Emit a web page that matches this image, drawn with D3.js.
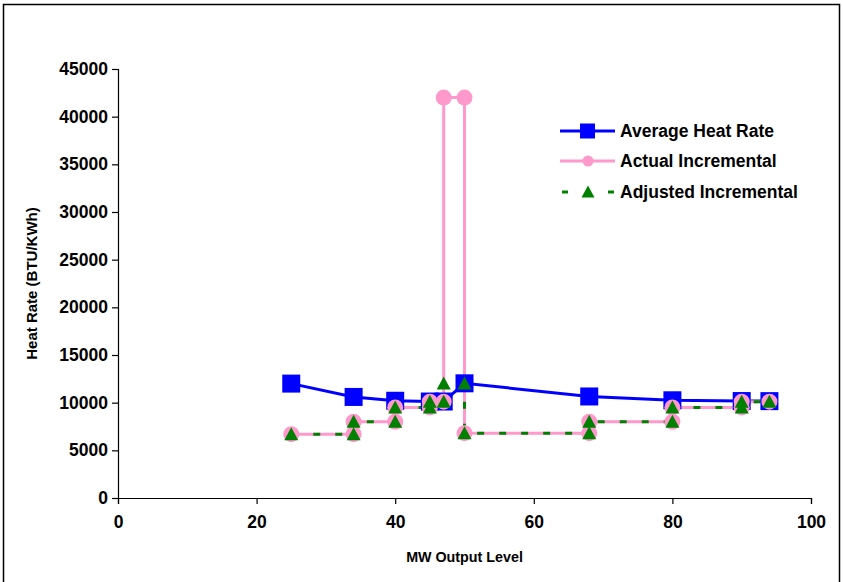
<!DOCTYPE html>
<html>
<head>
<meta charset="utf-8">
<script src="https://cdn.jsdelivr.net/npm/d3@7"></script>
<style>
  html, body { margin: 0; padding: 0; background: #fff; }
  svg { display: block; }
  text { font-family: "Liberation Sans", Arial, sans-serif; font-weight: bold; fill: #000; }
</style>
</head>
<body>
<svg id="chart" width="843" height="582"></svg>
<script>
// ---- data ----
const mwLevels = [25, 34, 40, 45, 47, 50, 68, 80, 90, 94];
const averageHeatRate = [12000, 10600, 10200, 10120, 10120, 12030, 10650, 10250, 10170, 10160];

const stepMW = [25, 34, 34, 40, 40, 45, 45, 47, 47, 50, 50, 68, 68, 80, 80, 90, 90, 94];
const actualIncremental = [6700, 6700, 8000, 8000, 9500, 9500, 10100, 10100, 42000, 42000, 6800, 6800, 8000, 8000, 9500, 9500, 10100, 10100];
const adjustedIncremental = [6700, 6700, 8000, 8000, 9500, 9500, 10100, 10100, 12000, 12000, 6800, 6800, 8000, 8000, 9500, 9500, 10100, 10100];

const xTicks = [0, 20, 40, 60, 80, 100];
const yTicks = [0, 5000, 10000, 15000, 20000, 25000, 30000, 35000, 40000, 45000];
const seriesNames = ["Average Heat Rate", "Actual Incremental", "Adjusted Incremental"];

// ---- setup ----
const svg = d3.select("#chart");
const x = d3.scaleLinear().domain([0, 100]).range([118, 811]);
const y = d3.scaleLinear().domain([0, 45000]).range([498, 69]);

// chart area frame
svg.append("rect").attr("x", 3.5).attr("y", 4.5).attr("width", 836).attr("height", 600)
  .attr("fill", "#fff").attr("stroke", "#000").attr("stroke-width", 1.5);

// axes
const xAxis = svg.append("g").attr("transform", `translate(0,${y(0)})`)
  .call(d3.axisBottom(x).tickValues(xTicks).tickSize(6).tickPadding(12).tickFormat(d3.format("d")));
const yAxis = svg.append("g").attr("transform", `translate(${x(0)},0)`)
  .call(d3.axisLeft(y).tickValues(yTicks).tickSize(6).tickPadding(4).tickFormat(d3.format("d")));
[xAxis, yAxis].forEach(g => {
  g.select(".domain").attr("stroke", "#000").attr("stroke-width", 1.2);
  g.selectAll(".tick line").attr("stroke", "#000").attr("stroke-width", 1.2);
  g.selectAll(".tick text").style("font-size", "17.5px").style("font-weight", "bold")
    .style("font-family", '"Liberation Sans", Arial, sans-serif').attr("fill", "#000");
});

// axis titles
svg.append("text").attr("x", (x(0) + x(100)) / 2).attr("y", 562)
  .attr("text-anchor", "middle").style("font-size", "14.3px").text("MW Output Level");
svg.append("text").attr("transform", `translate(37,${(y(0) + y(45000)) / 2}) rotate(-90)`)
  .attr("text-anchor", "middle").style("font-size", "15px").text("Heat Rate (BTU/KWh)");

// ---- series ----
const avgPts = mwLevels.map((m, i) => [m, averageHeatRate[i]]);
const actPts = stepMW.map((m, i) => [m, actualIncremental[i]]);
const adjPts = stepMW.map((m, i) => [m, adjustedIncremental[i]]);

const line = d3.line().x(d => x(d[0])).y(d => y(d[1]));

const colors = ["#0000FF", "#FF99CC", "#008000"];

// lines first (Excel draws all lines, then markers)
svg.append("path").datum(avgPts).attr("d", line).attr("fill", "none")
  .attr("stroke", colors[0]).attr("stroke-width", 3);
svg.append("path").datum(actPts).attr("d", line).attr("fill", "none")
  .attr("stroke", colors[1]).attr("stroke-width", 3);
svg.append("path").datum(adjPts).attr("d", line).attr("fill", "none")
  .attr("stroke", colors[2]).attr("stroke-width", 3).attr("stroke-dasharray", "7,15");

const triPath = "M0,-7L7,6L-7,6Z";

// markers
svg.append("g").selectAll("rect").data(avgPts).join("rect")
  .attr("x", d => x(d[0]) - 9).attr("y", d => y(d[1]) - 9)
  .attr("width", 18).attr("height", 18).attr("fill", colors[0]);
svg.append("g").selectAll("circle").data(actPts).join("circle")
  .attr("cx", d => x(d[0])).attr("cy", d => y(d[1])).attr("r", 8).attr("fill", colors[1]);
svg.append("g").selectAll("path").data(adjPts).join("path")
  .attr("transform", d => `translate(${x(d[0])},${y(d[1])})`).attr("d", triPath).attr("fill", colors[2]);

// ---- legend ----
const legY = [131, 161, 192];
const lg = svg.append("g");
seriesNames.forEach((name, i) => {
  const yy = legY[i];
  const ln = lg.append("line").attr("x1", 560).attr("x2", 615).attr("y1", yy).attr("y2", yy)
    .attr("stroke", colors[i]).attr("stroke-width", 3);
  if (i === 2) ln.attr("stroke-dasharray", "6,40").attr("x1", 562);
  if (i === 0) lg.append("rect").attr("x", 580).attr("y", yy - 7.5).attr("width", 15).attr("height", 15).attr("fill", colors[0]);
  if (i === 1) lg.append("circle").attr("cx", 588).attr("cy", yy).attr("r", 5.5).attr("fill", colors[1]);
  if (i === 2) lg.append("path").attr("transform", `translate(588,${yy})`).attr("d", "M0,-6.5L6.5,5.5L-6.5,5.5Z").attr("fill", colors[2]);
  lg.append("text").attr("x", 620).attr("y", yy + 6).style("font-size", "17.5px").text(name);
});
</script>
</body>
</html>
